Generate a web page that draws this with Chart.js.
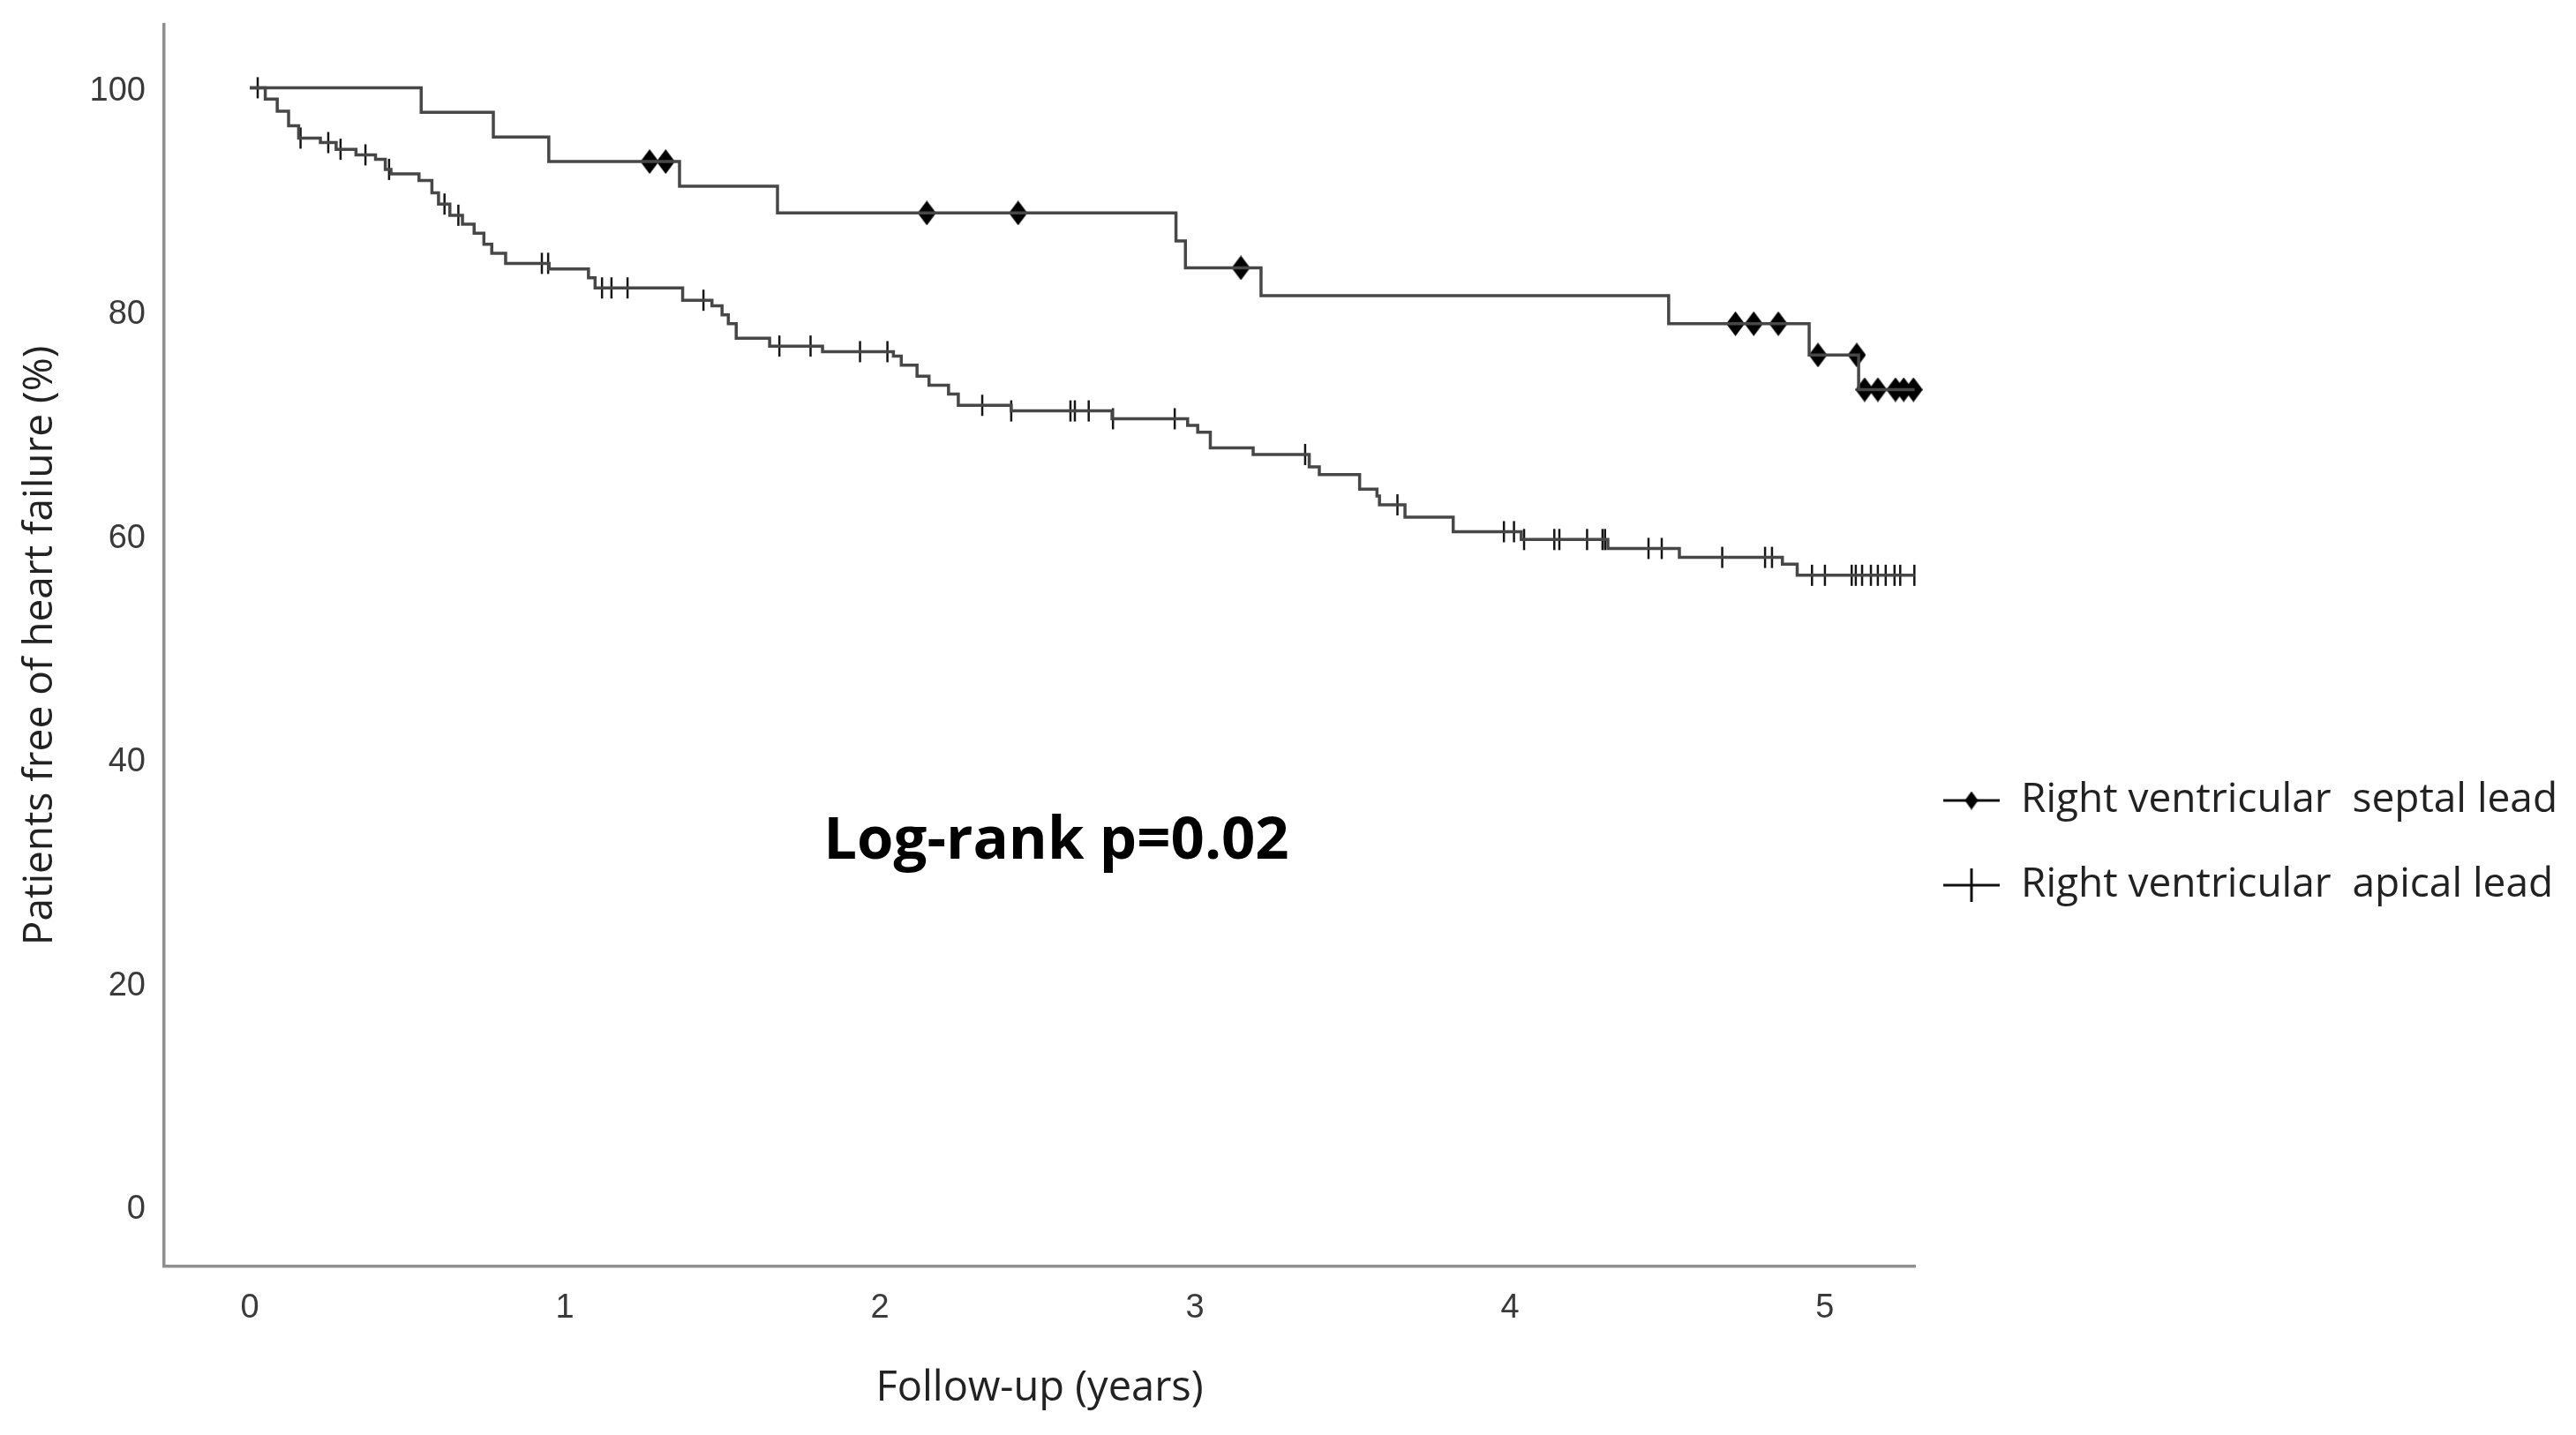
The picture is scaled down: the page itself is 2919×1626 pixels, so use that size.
<!DOCTYPE html>
<html>
<head>
<meta charset="utf-8">
<title>Patients free of heart failure</title>
<script src="https://cdn.jsdelivr.net/npm/chart.js@4.4.1/dist/chart.umd.min.js"></script>
<style>
  html, body { margin: 0; padding: 0; background: #fff; overflow: hidden; }
  #wrap { width: 2919px; height: 1626px; }
</style>
</head>
<body>
<div id="wrap"><canvas id="kmChart" width="2919" height="1626"></canvas></div>
<script>
// Kaplan-Meier data (years, % free of heart failure)
const seriesNames = ["Right ventricular  septal lead", "Right ventricular  apical lead"];

const septalTimes = [0, 0.544, 0.773, 0.949, 1.364, 1.675, 2.940, 2.970, 3.210, 4.504, 4.950, 5.107, 5.285];
const septalSurv  = [100, 97.8, 95.6, 93.4, 91.2, 88.8, 86.3, 83.9, 81.4, 78.9, 76.1, 73.0, 73.0];
const septalCensor = [1.269, 1.320, 2.149, 2.439, 3.146, 4.716, 4.774, 4.852, 4.978, 5.101,
  5.126, 5.168, 5.224, 5.250, 5.281];

const apicalTimes = [0, 0.049, 0.087, 0.123, 0.155, 0.224, 0.274, 0.337, 0.399, 0.430, 0.448,
  0.537, 0.578, 0.599, 0.635, 0.675, 0.712, 0.743, 0.768, 0.812, 0.950, 1.075, 1.096,
  1.374, 1.467, 1.499, 1.519, 1.544, 1.650, 1.818, 2.043, 2.068, 2.118, 2.156, 2.218,
  2.249, 2.417, 2.737, 2.977, 3.009, 3.049, 3.185, 3.363, 3.395, 3.523, 3.578, 3.586,
  3.667, 3.820, 4.036, 4.311, 4.538, 4.865, 4.912, 5.285];
const apicalSurv = [100, 99.0, 97.9, 96.6, 95.5, 95.1, 94.5, 94.0, 93.6, 92.7, 92.3,
  91.7, 90.6, 89.6, 88.6, 87.8, 87.0, 86.0, 85.2, 84.3, 83.8, 83.0, 82.1,
  81.0, 80.5, 79.7, 78.9, 77.6, 76.9, 76.4, 76.0, 75.2, 74.2, 73.4, 72.6,
  71.6, 71.1, 70.4, 69.8, 69.2, 67.8, 67.2, 66.1, 65.4, 64.1, 63.5, 62.7,
  61.6, 60.3, 59.6, 58.8, 58.0, 57.4, 56.4, 56.4];
const apicalCensor = [0.025, 0.161, 0.249, 0.288, 0.367, 0.442, 0.618, 0.662, 0.927, 0.947,
  1.118, 1.148, 1.199, 1.440, 1.681, 1.780, 1.937, 2.024, 2.325, 2.417, 2.605, 2.619,
  2.663, 2.740, 2.936, 3.350, 3.643, 3.981, 4.013, 4.045, 4.141, 4.157, 4.245, 4.294,
  4.302, 4.440, 4.482, 4.674, 4.810, 4.832, 4.959, 5.000, 5.085, 5.098, 5.118, 5.146,
  5.168, 5.193, 5.221, 5.239, 5.284];

const xTicks = [0, 1, 2, 3, 4, 5];
const yTicks = [0, 20, 40, 60, 80, 100];
const annotationText = "Log-rank p=0.02";

// survival level of a curve at time t (for placing censor marks on the curve)
function levelAt(times, surv, t) {
  let y = surv[0];
  for (let i = 0; i < times.length; i++) {
    if (times[i] <= t) y = surv[i];
  }
  return y;
}

function toPoints(xs, ys) {
  return xs.map((x, i) => ({ x: x, y: ys[i] }));
}

function censorPoints(cens, times, surv) {
  return cens.map(t => ({ x: t, y: levelAt(times, surv, t) }));
}

// tall diamond marker like SPSS
function makeDiamond(w, h) {
  const c = document.createElement("canvas");
  c.width = w; c.height = h;
  const g = c.getContext("2d");
  g.fillStyle = "#000";
  g.beginPath();
  g.moveTo(w / 2, 0);
  g.lineTo(w, h / 2);
  g.lineTo(w / 2, h);
  g.lineTo(0, h / 2);
  g.closePath();
  g.fill();
  return c;
}
const diamond = makeDiamond(21, 28);
const smallDiamond = makeDiamond(15, 21);

const curveColor = "#474747";
const labelFont = "'Open Sans', sans-serif";

// legend + annotation drawn on the canvas
const extrasPlugin = {
  id: "kmExtras",
  afterDraw(chart) {
    const ctx = chart.ctx;
    const area = chart.chartArea;
    const xs = chart.scales.x, ys = chart.scales.y;

    ctx.save();
    ctx.fillStyle = "#000";
    ctx.font = "bold 67px " + labelFont;
    ctx.textAlign = "center";
    ctx.textBaseline = "middle";
    ctx.fillText(annotationText, xs.getPixelForValue(2.56), ys.getPixelForValue(32.6));

    // legend
    const symX = area.right + 32;
    const symW = 64;
    const textX = area.right + 120;
    const rows = [area.top + 879, area.top + 975];
    ctx.font = "46px " + labelFont;
    ctx.textAlign = "left";
    ctx.fillStyle = "#222";
    rows.forEach((ry, i) => {
      ctx.strokeStyle = "#111";
      ctx.lineWidth = 3;
      ctx.beginPath();
      ctx.moveTo(symX, ry);
      ctx.lineTo(symX + symW, ry);
      ctx.stroke();
      if (i === 0) {
        ctx.drawImage(smallDiamond, symX + symW / 2 - 7.5, ry - 10.5);
      } else {
        ctx.beginPath();
        ctx.moveTo(symX + symW / 2, ry - 19);
        ctx.lineTo(symX + symW / 2, ry + 19);
        ctx.stroke();
      }
      ctx.fillText(seriesNames[i], textX, ry);
    });
    ctx.restore();
  }
};

const ctx = document.getElementById("kmChart").getContext("2d");
new Chart(ctx, {
  type: "scatter",
  data: {
    datasets: [
      {
        label: seriesNames[0],
        data: toPoints(septalTimes, septalSurv),
        showLine: true,
        stepped: "before",
        borderColor: curveColor,
        borderWidth: 3.5,
        pointRadius: 0,
        fill: false,
        clip: false
      },
      {
        label: seriesNames[1],
        data: toPoints(apicalTimes, apicalSurv),
        showLine: true,
        stepped: "before",
        borderColor: curveColor,
        borderWidth: 3.5,
        pointRadius: 0,
        fill: false,
        clip: false
      },
      {
        label: seriesNames[0] + " censored",
        data: censorPoints(septalCensor, septalTimes, septalSurv),
        showLine: false,
        pointStyle: diamond,
        pointRadius: 10,
        clip: false
      },
      {
        label: seriesNames[1] + " censored",
        data: censorPoints(apicalCensor, apicalTimes, apicalSurv),
        showLine: false,
        pointStyle: "line",
        rotation: 90,
        pointRadius: 12,
        pointBorderWidth: 2.5,
        pointBorderColor: "#151515",
        clip: false
      }
    ]
  },
  options: {
    responsive: false,
    animation: false,
    layout: { padding: { top: 28, right: 749, bottom: 0, left: 0 } },
    plugins: {
      legend: { display: false },
      tooltip: { enabled: false }
    },
    scales: {
      x: {
        type: "linear",
        min: -0.272,
        max: 5.286,
        afterBuildTicks(scale) { scale.ticks = xTicks.map(v => ({ value: v })); },
        afterFit(scale) { scale.height = 191; scale.paddingLeft = 0; scale.paddingRight = 0; },
        grid: { display: false, drawTicks: false },
        border: { display: true, color: "#8f8f8f", width: 3.5 },
        ticks: {
          padding: 25,
          color: "#3a3a3a",
          font: { family: "'Liberation Sans', Arial, sans-serif", size: 38 },
          maxRotation: 0
        },
        title: {
          display: true,
          text: "Follow-up (years)",
          color: "#222",
          font: { family: labelFont, size: 47 },
          padding: { top: 0, bottom: 24 }
        }
      },
      y: {
        type: "linear",
        min: -5.41,
        max: 105.64,
        afterBuildTicks(scale) { scale.ticks = yTicks.map(v => ({ value: v })); },
        afterFit(scale) { scale.width = 186; scale.paddingTop = 0; scale.paddingBottom = 0; },
        grid: { display: false, drawTicks: false },
        border: { display: true, color: "#8f8f8f", width: 3.5 },
        ticks: {
          padding: 21,
          labelOffset: 4,
          color: "#3a3a3a",
          font: { family: "'Liberation Sans', Arial, sans-serif", size: 38 }
        },
        title: {
          display: true,
          text: "Patients free of heart failure (%)",
          color: "#222",
          font: { family: labelFont, size: 46 },
          padding: { top: 18, bottom: 0 }
        }
      }
    }
  },
  plugins: [extrasPlugin]
});
</script>
</body>
</html>
